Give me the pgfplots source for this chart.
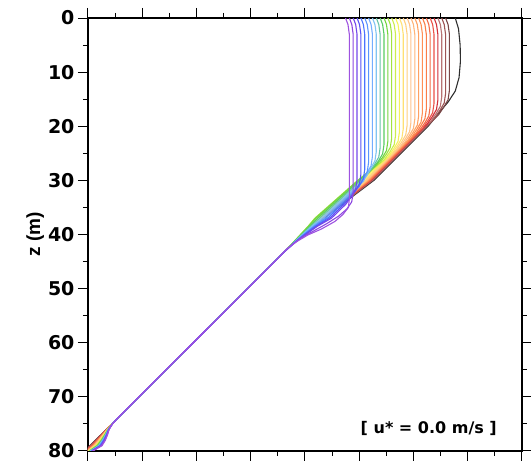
\documentclass[border=0pt]{standalone}
\usepackage{fontspec}
\setmainfont{DejaVu Sans}
\newfontfamily\lib{Liberation Sans}
\usepackage{pgfplots}
\pgfplotsset{compat=1.18}
\definecolor{c0}{rgb}{0.62,0.32,0.88}
\definecolor{c1}{rgb}{0.55,0.28,0.88}
\definecolor{c2}{rgb}{0.45,0.28,0.92}
\definecolor{c3}{rgb}{0.35,0.32,0.96}
\definecolor{c4}{rgb}{0.30,0.45,1.00}
\definecolor{c5}{rgb}{0.35,0.58,1.00}
\definecolor{c6}{rgb}{0.45,0.68,1.00}
\definecolor{c7}{rgb}{0.50,0.77,0.95}
\definecolor{c8}{rgb}{0.40,0.77,0.65}
\definecolor{c9}{rgb}{0.35,0.80,0.38}
\definecolor{c10}{rgb}{0.45,0.84,0.25}
\definecolor{c11}{rgb}{0.63,0.89,0.25}
\definecolor{c12}{rgb}{0.80,0.93,0.30}
\definecolor{c13}{rgb}{0.96,0.95,0.35}
\definecolor{c14}{rgb}{1.00,0.88,0.45}
\definecolor{c15}{rgb}{1.00,0.81,0.50}
\definecolor{c16}{rgb}{1.00,0.76,0.54}
\definecolor{c17}{rgb}{1.00,0.71,0.48}
\definecolor{c18}{rgb}{1.00,0.63,0.38}
\definecolor{c19}{rgb}{1.00,0.56,0.33}
\definecolor{c20}{rgb}{0.98,0.49,0.28}
\definecolor{c21}{rgb}{0.95,0.42,0.28}
\definecolor{c22}{rgb}{0.92,0.32,0.28}
\definecolor{c23}{rgb}{0.82,0.18,0.22}
\definecolor{c24}{rgb}{0.72,0.45,0.45}
\definecolor{c25}{rgb}{0.62,0.33,0.33}
\definecolor{c26}{rgb}{0.48,0.28,0.28}
\definecolor{c27}{rgb}{0.18,0.18,0.18}
\begin{document}
\begin{tikzpicture}
\begin{axis}[
  at={(0,0)}, anchor=south west,
  width=434pt, height=433pt, scale only axis,
  xmin=0, xmax=8, ymin=0, ymax=80, y dir=reverse,
  axis line style={line width=2.4pt},
  xtick={0,1,...,8}, minor x tick num=1, xticklabels={},
  ytick={0,10,...,80}, minor y tick num=1,
  tick align=outside, major tick length=10pt, minor tick length=5pt,
  tick style={black, line width=1pt},
  /pgf/number format/assume math mode=true,
  tick label style={font=\bfseries\fontsize{19}{19}\selectfont},
  ylabel={z (m)},
  ylabel style={font=\lib\bfseries\fontsize{19}{19}\selectfont, yshift=-3pt},
  every axis plot/.append style={line width=1.1pt, line join=round},
]
\addplot[c27] coordinates {(6.77,0) (6.83,2) (6.86,5) (6.865,8) (6.84,11) (6.77,13.5) (6.64,15.5) (6.47,17.5) (6.27,20) (5.27,30) (4.74,34) (4.34,37) (4.14,38.5) (3.957,40) (3.79,41.5) (3.64,43) (3.34,46) (0.54,74) (-0.06,80)};
\addplot[c26] coordinates {(6.592,0) (6.637,1.2) (6.662,3) (6.662,13.4) (6.637,15.1) (6.562,16.4) (6.462,17.9) (5.252,30) (4.727,34) (4.334,37) (4.137,38.5) (3.956,40) (3.79,41.5) (3.64,43) (3.34,46) (0.54,74) (-0.06,80)};
\addplot[c25] coordinates {(6.521,0) (6.566,1.2) (6.591,3) (6.591,14) (6.566,15.7) (6.491,17) (6.39,18.5) (5.24,30) (4.72,34) (4.33,37) (4.135,38.5) (3.955,40) (3.79,41.5) (3.64,43) (3.34,46) (0.54,74) (0.44,75) (0.342,76) (0.245,77) (0.147,78) (0.048,79) (-0.054,80)};
\addplot[c24] coordinates {(6.45,0) (6.495,1.2) (6.52,3) (6.52,14.6) (6.495,16.3) (6.42,17.6) (6.318,19.1) (5.228,30) (4.713,34) (4.326,37) (4.133,38.5) (3.954,40) (3.79,41.5) (3.64,43) (3.34,46) (0.54,74) (0.441,75) (0.344,76) (0.249,77) (0.154,78) (0.057,79) (-0.048,80)};
\addplot[c23] coordinates {(6.379,0) (6.424,1.2) (6.449,3) (6.449,15.2) (6.424,16.9) (6.349,18.2) (6.246,19.7) (5.216,30) (4.706,34) (4.323,37) (4.131,38.5) (3.954,40) (3.79,41.5) (3.64,43) (3.34,46) (0.54,74) (0.441,75) (0.346,76) (0.254,77) (0.161,78) (0.065,79) (-0.043,80)};
\addplot[c22] coordinates {(6.308,0) (6.353,1.2) (6.378,3) (6.378,15.8) (6.353,17.5) (6.278,18.8) (6.174,20.3) (5.204,30) (4.698,34) (4.319,37) (4.13,38.5) (3.953,40) (3.79,41.5) (3.64,43) (3.34,46) (0.54,74) (0.442,75) (0.348,76) (0.258,77) (0.168,78) (0.074,79) (-0.037,80)};
\addplot[c21] coordinates {(6.237,0) (6.282,1.2) (6.307,3) (6.307,16.4) (6.282,18.1) (6.207,19.4) (6.102,20.9) (5.192,30) (4.691,34) (4.316,37) (4.128,38.5) (3.953,40) (3.79,41.5) (3.64,43) (3.34,46) (0.54,74) (0.442,75) (0.35,76) (0.263,77) (0.175,78) (0.082,79) (-0.031,80)};
\addplot[c20] coordinates {(6.166,0) (6.211,1.2) (6.236,3) (6.236,16.9) (6.211,18.6) (6.136,19.9) (6.04,21.4) (5.18,30) (4.684,34) (4.312,37) (4.126,38.5) (3.952,40) (3.79,41.5) (3.64,43) (3.34,46) (0.54,74) (0.442,75) (0.352,76) (0.268,77) (0.182,78) (0.091,79) (-0.025,80)};
\addplot[c19] coordinates {(6.095,0) (6.14,1.2) (6.165,3) (6.165,17.5) (6.14,19.2) (6.065,20.5) (5.968,22) (5.168,30) (4.677,34) (4.308,37) (4.124,38.5) (3.951,40) (3.79,41.5) (3.64,43) (3.34,46) (0.54,74) (0.443,75) (0.353,76) (0.272,77) (0.188,78) (0.099,79) (-0.02,80)};
\addplot[c18] coordinates {(6.025,0) (6.07,1.2) (6.095,3) (6.095,18.1) (6.07,19.8) (5.995,21.1) (5.896,22.6) (5.156,30) (4.67,34) (4.305,37) (4.122,38.5) (3.951,40) (3.79,41.5) (3.64,43) (3.34,46) (0.54,74) (0.443,75) (0.355,76) (0.277,77) (0.195,78) (0.108,79) (-0.014,80)};
\addplot[c17] coordinates {(5.954,0) (5.999,1.2) (6.024,3) (6.024,18.7) (5.999,20.4) (5.924,21.7) (5.824,23.2) (5.144,30) (4.662,34) (4.301,37) (4.121,38.5) (3.95,40) (3.79,41.5) (3.64,43) (3.34,46) (0.54,74) (0.443,75) (0.357,76) (0.282,77) (0.202,78) (0.116,79) (-0.008,80)};
\addplot[c16] coordinates {(5.883,0) (5.928,1.2) (5.953,3) (5.953,19.3) (5.928,21) (5.853,22.3) (5.752,23.8) (5.132,30) (4.655,34) (4.298,37) (4.119,38.5) (3.95,40) (3.79,41.5) (3.64,43) (3.34,46) (0.54,74) (0.444,75) (0.359,76) (0.286,77) (0.209,78) (0.125,79) (-0.002,80)};
\addplot[c15] coordinates {(5.812,0) (5.857,1.2) (5.882,3) (5.882,19.9) (5.857,21.6) (5.782,22.9) (5.68,24.4) (5.12,30) (4.648,34) (4.294,37) (4.117,38.5) (3.949,40) (3.79,41.5) (3.64,43) (3.34,46) (0.54,74) (0.444,75) (0.361,76) (0.291,77) (0.216,78) (0.133,79) (0.003,80)};
\addplot[c14] coordinates {(5.741,0) (5.786,1.2) (5.811,3) (5.811,20.5) (5.786,22.2) (5.711,23.5) (5.608,25) (5.298,28) (5.088,30) (4.621,34) (4.27,37) (4.104,38.5) (3.942,40) (3.788,41.5) (3.64,43) (3.34,46) (0.54,74) (0.445,75) (0.363,76) (0.295,77) (0.223,78) (0.142,79) (0.009,80)};
\addplot[c13] coordinates {(5.67,0) (5.715,1.2) (5.74,3) (5.74,21.1) (5.715,22.8) (5.64,24.1) (5.536,25.6) (5.271,28) (5.046,30) (4.584,34) (4.237,37) (4.086,38.5) (3.933,40) (3.785,41.5) (3.64,43) (3.34,46) (0.54,74) (0.445,75) (0.365,76) (0.3,77) (0.23,78) (0.15,79) (0.015,80)};
\addplot[c12] coordinates {(5.599,0) (5.644,1.2) (5.669,3) (5.669,21.7) (5.644,23.4) (5.569,24.7) (5.46,26.2) (5.244,28) (5.004,30) (4.546,34) (4.203,37) (4.068,38.5) (3.923,40) (3.782,41.5) (3.64,43) (3.34,46) (0.54,74) (0.445,75) (0.367,76) (0.305,77) (0.237,78) (0.158,79) (0.021,80)};
\addplot[c11] coordinates {(5.528,0) (5.573,1.2) (5.598,3) (5.598,22.2) (5.573,23.9) (5.498,25.2) (5.385,26.7) (5.222,28) (4.972,30) (4.519,34) (4.18,37) (4.055,38.5) (3.917,40) (3.78,41.5) (3.64,43) (3.34,46) (0.54,74) (0.446,75) (0.369,76) (0.309,77) (0.244,78) (0.167,79) (0.027,80)};
\addplot[c10] coordinates {(5.457,0) (5.502,1.2) (5.527,3) (5.527,22.8) (5.502,24.5) (5.427,25.8) (5.304,27.3) (5.22,28) (4.98,30) (4.532,34) (4.196,37) (4.064,38.5) (3.922,40) (3.782,41.5) (3.64,43) (3.34,46) (0.54,74) (0.446,75) (0.371,76) (0.314,77) (0.251,78) (0.175,79) (0.032,80)};
\addplot[c9] coordinates {(5.386,0) (5.431,1.2) (5.456,3) (5.456,23.4) (5.431,25.1) (5.356,26.4) (5.228,28) (5.008,30) (4.565,34) (4.232,37) (4.084,38.5) (3.933,40) (3.786,41.5) (3.64,43) (3.34,46) (0.54,74) (0.447,75) (0.373,76) (0.318,77) (0.258,78) (0.184,79) (0.038,80)};
\addplot[c8] coordinates {(5.315,0) (5.36,1.2) (5.385,3) (5.385,24) (5.36,25.7) (5.285,27) (5.186,28.5) (5.036,30) (4.598,34) (4.269,37) (4.104,38.5) (3.945,40) (3.79,41.5) (3.64,43) (3.34,46) (0.54,74) (0.447,75) (0.375,76) (0.323,77) (0.265,78) (0.192,79) (0.044,80)};
\addplot[c7] coordinates {(5.244,0) (5.289,1.2) (5.314,3) (5.314,24.7) (5.289,26.4) (5.214,27.7) (5.136,29.2) (5.064,30) (4.63,34) (4.305,37) (4.125,38.5) (3.956,40) (3.794,41.5) (3.64,43) (3.34,46) (0.54,74) (0.447,75) (0.377,76) (0.328,77) (0.272,78) (0.201,79) (0.05,80)};
\addplot[c6] coordinates {(5.173,0) (5.218,1.2) (5.243,3) (5.243,25.6) (5.218,27.3) (5.143,28.6) (5.082,30.1) (4.663,34) (4.342,37) (4.145,38.5) (3.968,40) (3.798,41.5) (3.64,43) (3.34,46) (0.54,74) (0.448,75) (0.378,76) (0.332,77) (0.278,78) (0.209,79) (0.055,80)};
\addplot[c5] coordinates {(5.102,0) (5.147,1.2) (5.172,3) (5.172,26.7) (5.147,28.4) (5.072,29.7) (4.993,31.2) (4.696,34) (4.378,37) (4.165,38.5) (3.979,40) (3.802,41.5) (3.64,43) (3.34,46) (0.54,74) (0.448,75) (0.38,76) (0.337,77) (0.285,78) (0.218,79) (0.061,80)};
\addplot[c4] coordinates {(5.031,0) (5.076,1.2) (5.101,3) (5.101,28) (5.076,29.7) (5.001,31) (4.886,32.5) (4.729,34) (4.414,37) (4.185,38.5) (3.99,40) (3.806,41.5) (3.64,43) (3.34,46) (0.54,74) (0.448,75) (0.382,76) (0.342,77) (0.292,78) (0.226,79) (0.067,80)};
\addplot[c3] coordinates {(4.96,0) (5.005,1.2) (5.03,3) (5.03,28.9) (5.005,30.6) (4.93,31.9) (4.824,33.4) (4.451,37) (4.205,38.5) (4.002,40) (3.81,41.5) (3.64,43) (3.34,46) (0.54,74) (0.449,75) (0.384,76) (0.346,77) (0.299,78) (0.235,79) (0.073,80)};
\addplot[c2] coordinates {(4.889,0) (4.934,1.2) (4.959,3) (4.959,29.9) (4.934,31.6) (4.859,32.9) (4.753,34.4) (4.487,37) (4.226,38.5) (4.013,40) (3.814,41.5) (3.64,43) (3.34,46) (0.54,74) (0.449,75) (0.386,76) (0.351,77) (0.306,78) (0.243,79) (0.078,80)};
\addplot[c1] coordinates {(4.818,0) (4.863,1.2) (4.888,3) (4.888,32.4) (4.86,34) (4.77,35.3) (4.62,36.6) (4.40,38) (4.15,39.4) (3.93,40.6) (3.76,41.9) (3.64,43) (3.34,46) (0.54,74) (0.45,75) (0.388,76) (0.355,77) (0.313,78) (0.252,79) (0.084,80)};
\addplot[c0] coordinates {(4.747,0) (4.792,1.2) (4.817,3) (4.817,33.5) (4.80,35) (4.70,36.3) (4.55,37.6) (4.30,39) (4.05,40.1) (3.85,41.3) (3.67,42.6) (3.52,44.2) (3.34,46) (0.54,74) (0.45,75) (0.39,76) (0.36,77) (0.32,78) (0.26,79) (0.09,80)};
\node[anchor=east, font=\bfseries\fontsize{16}{16}\selectfont] at (axis cs:7.6,75.8) {[ u* = 0.0 m/s ]};
\end{axis}
\pgfresetboundingbox
\path (-88pt,-11pt) rectangle (443pt,451pt);
\end{tikzpicture}
\end{document}
